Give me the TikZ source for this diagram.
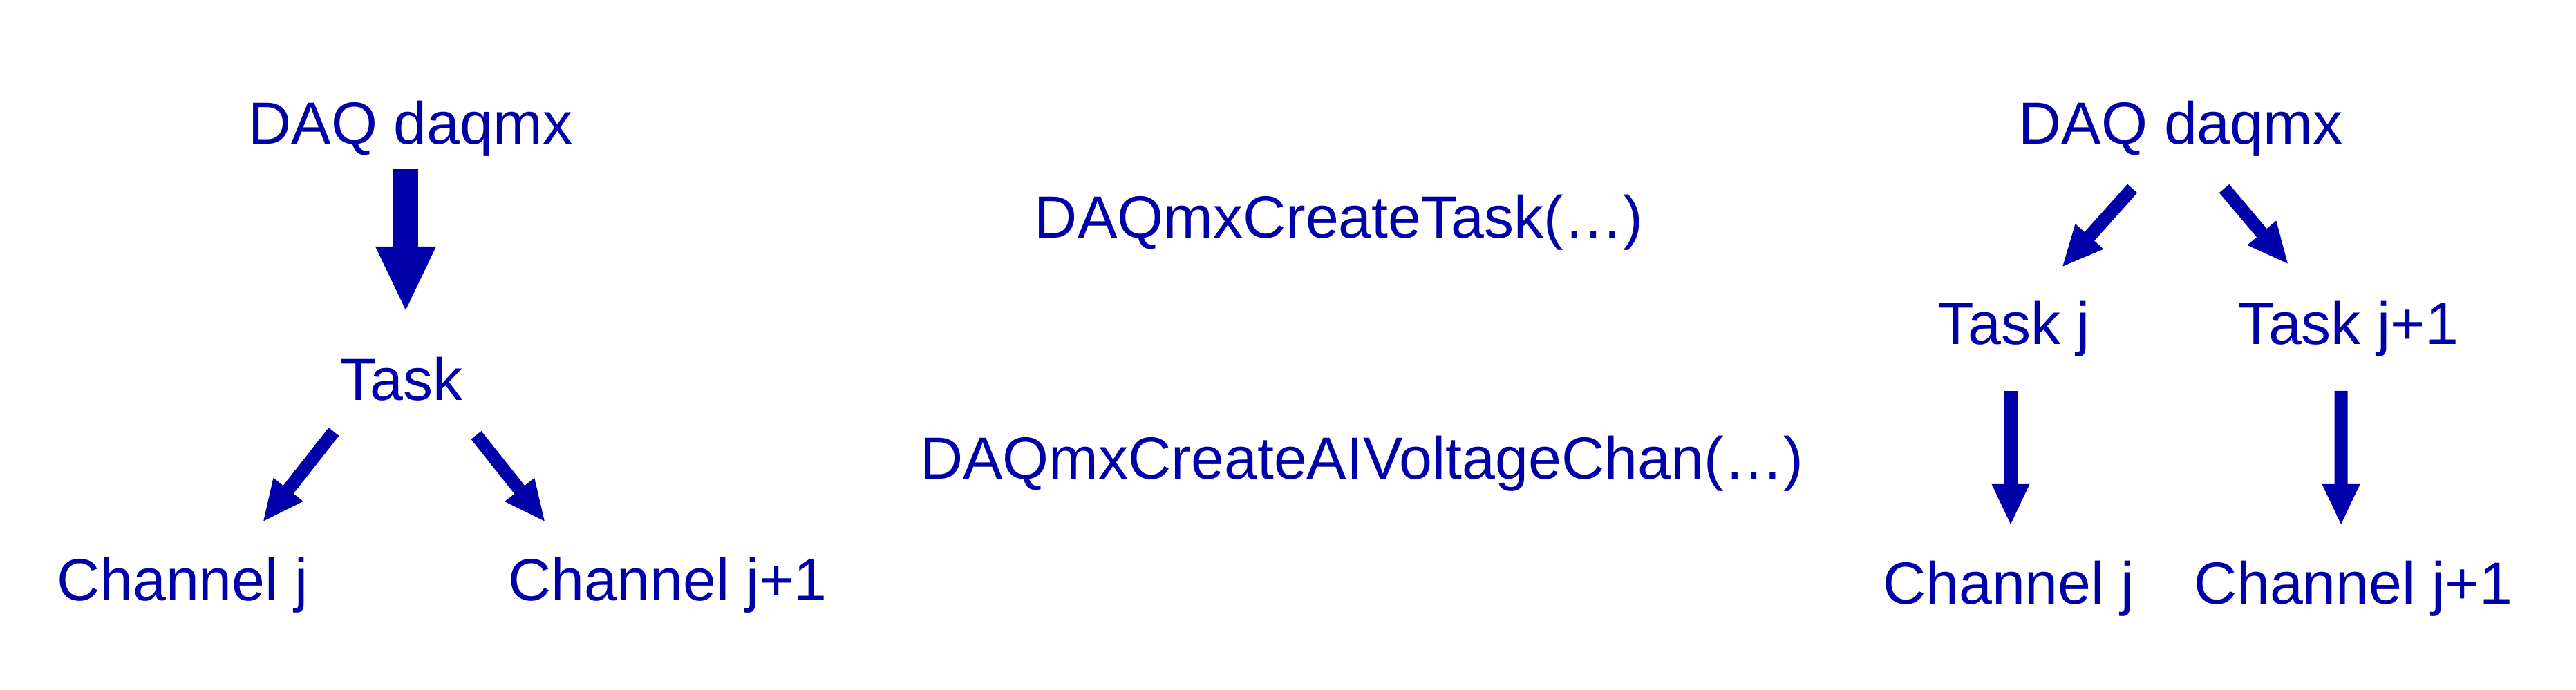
\documentclass[tikz,border=0pt]{standalone}
\usepackage{fontspec}
\setmainfont{Liberation Sans}
\usepackage{xcolor}
\usetikzlibrary{arrows.meta, calc}
\definecolor{daqblue}{RGB}{0,0,168}

\begin{document}
\begin{tikzpicture}[every node/.style={font=\fontsize{24.5pt}{28pt}\selectfont, text=daqblue, anchor=base, inner sep=0pt},
  bigarr/.style={draw=daqblue, line width=3.6mm, -{Triangle[length=9.5mm, width=8mm]}},
  smallarr/.style={draw=daqblue, line width=1.9mm, -{Triangle[length=6mm, width=5mm]}}]
  \useasboundingbox (0,0) rectangle (37.27,9.99);
  % left: one task, two channels
  \node (daqL) at (5.94,7.90) {DAQ daqmx};
  \node (task) at (5.81,4.19) {Task};
  \node (chanLj) at (2.64,1.29) {Channel j};
  \node (chanLk) at (9.66,1.29) {Channel j+1};
  \draw[bigarr] ($(daqL.base)+(-0.07,-0.36)$) -- ($(task.base)+(0.06,1.28)$);
  \draw[smallarr] ($(task.base)+(-0.98,-0.45)$) -- ($(chanLj.base)+(1.16,1.14)$);
  \draw[smallarr] ($(task.base)+(1.08,-0.50)$) -- ($(chanLk.base)+(-1.77,1.14)$);
  % middle: calls
  \node (createTask) at (19.37,6.54) {DAQmxCreateTask(…)};
  \node (createChan) at (19.70,3.05) {DAQmxCreateAIVoltageChan(…)};
  % right: two tasks, one channel each
  \node (daqR) at (31.55,7.90) {DAQ daqmx};
  \node (taskRj) at (29.14,5.00) {Task j};
  \node (taskRk) at (33.98,5.00) {Task j+1};
  \node (chanRj) at (29.06,1.24) {Channel j};
  \node (chanRk) at (34.05,1.24) {Channel j+1};
  \draw[smallarr] ($(daqR.base)+(-0.70,-0.64)$) -- ($(taskRj.base)+(0.69,1.12)$);
  \draw[smallarr] ($(daqR.base)+(0.63,-0.64)$) -- ($(taskRk.base)+(-0.87,1.16)$);
  \draw[smallarr] ($(taskRj.base)+(-0.05,-0.67)$) -- ($(chanRj.base)+(0.03,1.14)$);
  \draw[smallarr] ($(taskRk.base)+(-0.11,-0.67)$) -- ($(chanRk.base)+(-0.18,1.14)$);
\end{tikzpicture}
\end{document}
